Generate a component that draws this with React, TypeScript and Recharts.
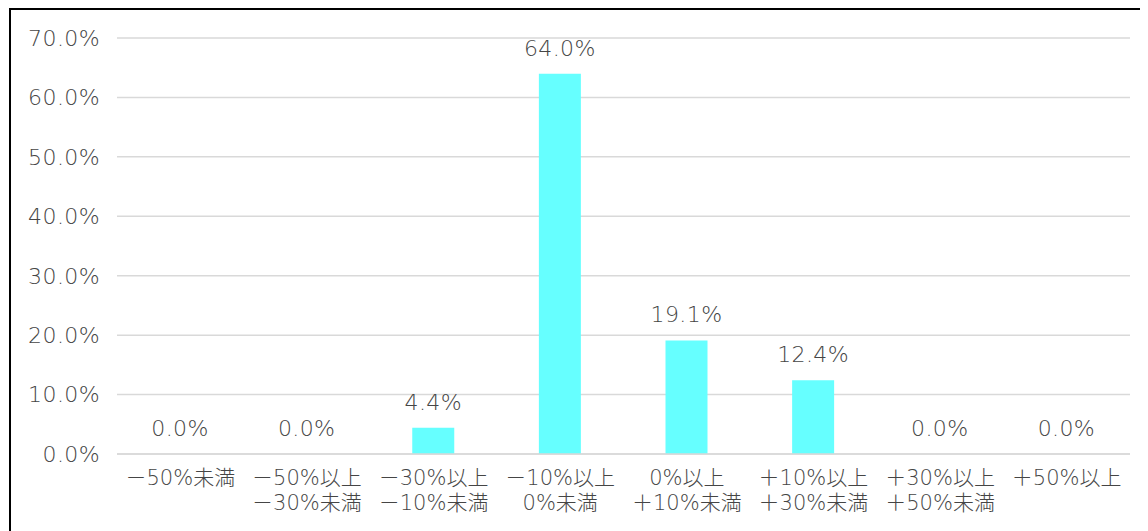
import React from 'react';
import { BarChart, Bar, XAxis, YAxis, CartesianGrid, LabelList } from 'recharts';

const categories = [
  '－50%未満',
  '－50%以上\n－30%未満',
  '－30%以上\n－10%未満',
  '－10%以上\n0%未満',
  '0%以上\n＋10%未満',
  '＋10%以上\n＋30%未満',
  '＋30%以上\n＋50%未満',
  '＋50%以上',
];
const shares = [0.0, 0.0, 4.4, 64.0, 19.1, 12.4, 0.0, 0.0];
const yTicks = [0, 10, 20, 30, 40, 50, 60, 70];

const chartData = categories.map((name, i) => ({ name, value: shares[i] }));

const FONT = "'DejaVu Sans', 'Noto Sans CJK JP', sans-serif";
const TEXT = '#454545';
const textStyle = { fill: TEXT, fontSize: 22, fontFamily: FONT, fontWeight: 200, letterSpacing: 0.4 };

// two-line category labels
const CategoryTick = ({ x, y, payload }: any) => {
  const lines = String(payload.value).split('\n');
  return (
    <text x={x} y={y} textAnchor="middle" {...textStyle} fontSize={21} letterSpacing={0}>
      {lines.map((line, i) => (
        <tspan key={i} x={x} dy={i === 0 ? 23 : 25}>
          {line}
        </tspan>
      ))}
    </text>
  );
};

export default function App() {
  return (
    <div style={{ width: 1140, height: 523, overflow: 'hidden', position: 'relative' }}>
      <div
        style={{
          position: 'absolute',
          left: 1,
          top: 0,
          width: 1200,
          height: 600,
          border: '2px solid #000',
          boxSizing: 'border-box',
        }}
      />
      <BarChart
        width={1140}
        height={523}
        data={chartData}
        margin={{ top: 30, right: 18, left: 19, bottom: 17 }}
        style={{ position: 'absolute', left: 0, top: 0 }}
      >
        <CartesianGrid vertical={false} stroke="#d9d9d9" strokeWidth={1.5} />
        <XAxis
          dataKey="name"
          interval={0}
          height={60}
          axisLine={{ stroke: '#d9d9d9', strokeWidth: 1.5 }}
          tickLine={false}
          tick={<CategoryTick />}
        />
        <YAxis
          width={90}
          domain={[0, 70]}
          ticks={yTicks}
          axisLine={false}
          tickLine={false}
          tickMargin={11}
          tickFormatter={(v) => `${Number(v).toFixed(1)}%`}
          tick={textStyle}
        />
        <Bar dataKey="value" fill="#66FFFF" barSize={42} minPointSize={0.01} isAnimationActive={false}>
          <LabelList
            dataKey="value"
            position="top"
            offset={18}
            formatter={(v: any) => `${Number(v).toFixed(1)}%`}
            {...textStyle}
          />
        </Bar>
      </BarChart>
    </div>
  );
}
